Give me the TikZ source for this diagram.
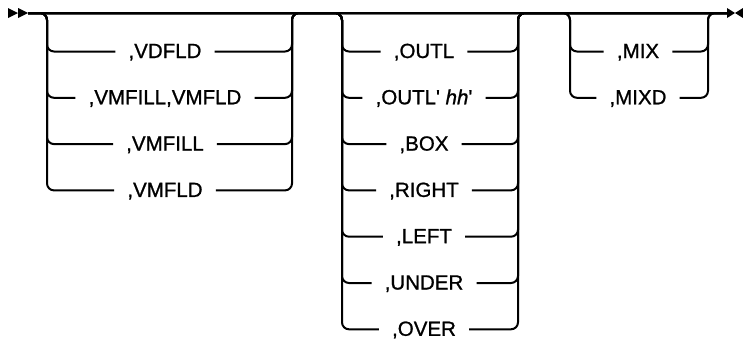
\documentclass[tikz,border=0pt]{standalone}
\usepackage{fontspec}
\setmainfont{Liberation Sans}[FakeBold=1]
\usepackage{tikz}
\usetikzlibrary{calc}

\begin{document}
\begin{tikzpicture}[
    x=1pt, y=-1pt,
    font=\fontsize{20.5}{24}\selectfont,
    rail/.style={line width=2pt, rounded corners=7pt},
    choice/.style={inner xsep=13pt, inner ysep=0pt, text height=13pt, text depth=0pt},
    tip/.style={fill=black}
]
    \useasboundingbox (0,0) rectangle (743,340);

    % entry and exit of the main rail
    \coordinate (entry) at (28,13);
    \coordinate (exit) at (727,13);
    \fill[tip] (8,8) -- (18,13) -- (8,18) -- cycle;
    \fill[tip] (18,8) -- (28,13) -- (18,18) -- cycle;
    \fill[tip] (727,8) -- (735,13) -- (727,18) -- cycle;
    \fill[tip] (743,8) -- (735,13) -- (743,18) -- cycle;
    \draw[rail] (entry) -- (exit);

    % (a) field options
    \coordinate (fldin) at (47,13);
    \coordinate (fldout) at (292,13);
    \foreach \lab [count=\k] in {{,VDFLD},{,VMFILL,VMFLD},{,VMFILL},{,VMFLD}} {
        \node[choice] (fld\k) at (165,{51.5+46.3*(\k-1)}) {\lab};
        \draw[rail] (entry) -- (fldin) -- (fldin |- fld\k) -- (fld\k.west);
        \draw[rail] (fld\k.east) -- (fldout |- fld\k) -- (fldout) -- (exit);
    }

    % (b) outline options
    \coordinate (outin) at (342,13);
    \coordinate (outout) at (518,13);
    \foreach \lab [count=\k] in {{,OUTL},{,OUTL\textquotesingle{} \textit{hh}\textquotesingle},{,BOX},{,RIGHT},{,LEFT},{,UNDER},{,OVER}} {
        \node[choice] (out\k) at (424,{51.5+46.3*(\k-1)}) {\lab};
        \draw[rail] (entry) -- (outin) -- (outin |- out\k) -- (out\k.west);
        \draw[rail] (out\k.east) -- (outout |- out\k) -- (outout) -- (exit);
    }

    % (c) mix options
    \coordinate (mixin) at (570,13);
    \coordinate (mixout) at (708,13);
    \foreach \lab [count=\k] in {{,MIX},{,MIXD}} {
        \node[choice] (mix\k) at (638,{51.5+46.3*(\k-1)}) {\lab};
        \draw[rail] (entry) -- (mixin) -- (mixin |- mix\k) -- (mix\k.west);
        \draw[rail] (mix\k.east) -- (mixout |- mix\k) -- (mixout) -- (exit);
    }
\end{tikzpicture}
\end{document}
